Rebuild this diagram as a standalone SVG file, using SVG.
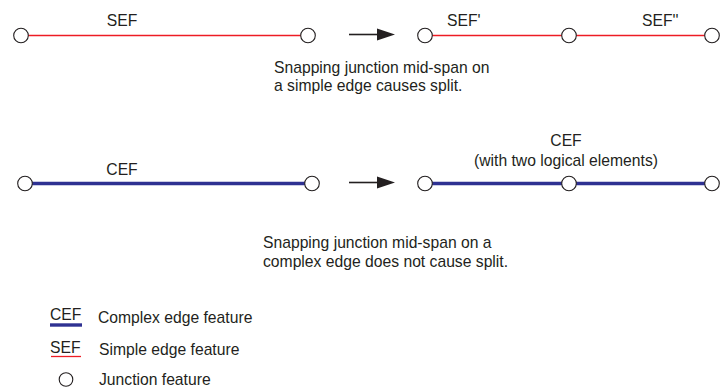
<svg xmlns="http://www.w3.org/2000/svg" width="724" height="387" viewBox="0 0 724 387">
<defs>
<style>
text{font-family:"Liberation Sans",Arial,sans-serif;font-size:15.7px;fill:#231f20}
.j{fill:#fff;stroke:#231f20;stroke-width:1.1}
.sef{stroke:#ed1c24;stroke-width:1.3;fill:none}
.cef{stroke:#2e3192;stroke-width:3.4;fill:none}
.arr{stroke:#231f20;stroke-width:1.6;fill:none}
.head{fill:#231f20}
</style>
</defs>
<rect width="724" height="387" fill="#fff"/>
<g id="connectors">
<line class="sef" x1="21" y1="35.5" x2="308" y2="35.5"/>
<line class="sef" x1="425" y1="35.5" x2="712" y2="35.5"/>
<line class="cef" x1="25" y1="183.5" x2="312" y2="183.5"/>
<line class="cef" x1="425" y1="183.5" x2="712" y2="183.5"/>
<line class="arr" x1="349" y1="34.5" x2="380" y2="34.5"/>
<polygon class="head" points="377,28.5 395,34.5 377,40.5"/>
<line class="arr" x1="349" y1="182.5" x2="380" y2="182.5"/>
<polygon class="head" points="377,176.5 395,182.5 377,188.5"/>
</g>
<g id="row1-left">
<text x="122" y="26" text-anchor="middle">SEF</text>
<circle id="j1" class="j" cx="21" cy="35.5" r="7.3"/>
<circle id="j2" class="j" cx="308" cy="35.5" r="7.3"/>
</g>
<g id="row1-right">
<text x="447" y="26">SEF'</text>
<text x="642" y="26">SEF''</text>
<circle id="j3" class="j" cx="425" cy="35.5" r="7.3"/>
<circle id="j4" class="j" cx="569" cy="35.5" r="7.3"/>
<circle id="j5" class="j" cx="712" cy="35.5" r="7.3"/>
</g>
<g id="note1">
<text x="274" y="73">Snapping junction mid-span on</text>
<text x="274" y="91">a simple edge causes split.</text>
</g>
<g id="row2-left">
<text x="122" y="175" text-anchor="middle">CEF</text>
<circle id="j6" class="j" cx="25" cy="183.5" r="7.3"/>
<circle id="j7" class="j" cx="312" cy="183.5" r="7.3"/>
</g>
<g id="row2-right">
<text x="566" y="146" text-anchor="middle">CEF</text>
<text x="566" y="165.5" text-anchor="middle">(with two logical elements)</text>
<circle id="j8" class="j" cx="425" cy="183.5" r="7.3"/>
<circle id="j9" class="j" cx="569" cy="183.5" r="7.3"/>
<circle id="j10" class="j" cx="712" cy="183.5" r="7.3"/>
</g>
<g id="note2">
<text x="263" y="248">Snapping junction mid-span on a</text>
<text x="263" y="266.5">complex edge does not cause split.</text>
</g>
<g id="legend">
<text x="50" y="320">CEF</text>
<line class="cef" x1="50" y1="325" x2="82" y2="325"/>
<text x="98" y="322.5">Complex edge feature</text>
<text x="50" y="353">SEF</text>
<line class="sef" x1="51" y1="356.5" x2="81" y2="356.5"/>
<text x="99" y="355">Simple edge feature</text>
<circle class="j" cx="66" cy="379.5" r="6.8"/>
<text x="99" y="385">Junction feature</text>
</g>
</svg>
